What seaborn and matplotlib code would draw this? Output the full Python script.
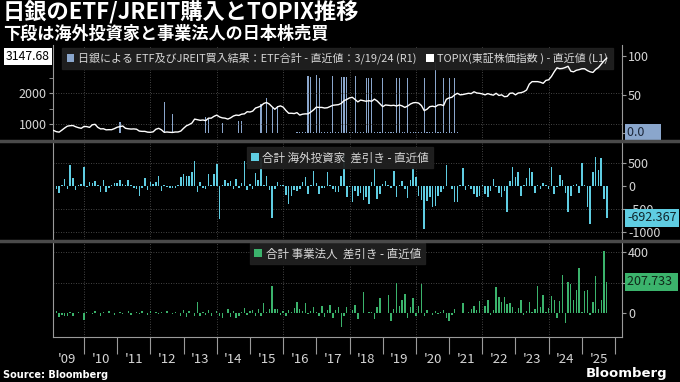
import numpy as np
import pandas as pd
import matplotlib
matplotlib.use("Agg")
import matplotlib.pyplot as plt
from matplotlib.lines import Line2D
from matplotlib.patches import Patch
import seaborn as sns

# ---------------- data (monthly, Jan 2009 - Sep 2025) ----------------
first_year = 2009

# 海外投資家 差引き
foreign_2009 = [-240, -80, -150, 20, 150, -70, 450, 170, -100, 20, 30, 400]
foreign_2010 = [-20, 85, 50, 100, 10, -130, 130, -130, -60, 10, 50, 60]
foreign_2011 = [130, 30, 10, 130, 10, -40, -80, -220, -50, 170, -90, 70]
foreign_2012 = [40, 85, 200, -110, 10, -30, -40, -50, -55, 10, 180, 260]
foreign_2013 = [220, 200, 290, 540, -130, 75, -40, -75, 260, 5, 260, 460]
foreign_2014 = [-725, 10, 130, 60, 100, -70, 150, -60, 60, 540, -90, 30]
foreign_2015 = [-75, 270, 130, 590, 10, 220, -90, -700, -80, 75, 10, 10]
foreign_2016 = [-200, -390, -220, -90, -110, -80, 75, 180, -180, 10, 310, 50]
foreign_2017 = [-180, -50, -50, 290, 10, -80, -130, -130, 220, 660, -250, -30]
foreign_2018 = [-345, -110, -220, -150, -320, -250, -390, 85, 380, -290, -180, 40]
foreign_2019 = [110, 10, -40, 310, -250, 10, 110, -75, -275, 130, 415, 180]
foreign_2020 = [-220, -300, -940, -330, -250, -460, -430, -220, -130, -80, 440, -10]
foreign_2021 = [-80, -345, -360, 10, 380, -90, 10, -75, -185, -250, -220, 10]
foreign_2022 = [-185, -235, -110, 150, -25, -150, -250, -110, -560, 100, 400, 190]
foreign_2023 = [290, -220, 10, 170, 380, 300, -150, 10, -80, 50, 10, -65]
foreign_2024 = [415, -185, -30, 225, 130, -150, -560, -220, 10, 30, -165, 500]
foreign_2025 = [10, -460, -840, 290, 630, 345, 610, -290, -692.367]

# 事業法人 差引き
corp_2009 = [10, 15, -25, -10, -20, -15, 10, -15, 5, 10, 5, -45]
corp_2010 = [10, 5, -5, 15, 5, -15, 10, 0, 15, 5, -10, 5]
corp_2011 = [10, -5, 5, 15, -10, 5, 10, -5, 15, 5, -10, 15]
corp_2012 = [5, 10, -5, 10, 5, 15, 5, -5, 10, 5, -15, 20]
corp_2013 = [-25, 15, 5, -20, 75, -20, 10, -10, 20, -15, 5, 15]
corp_2014 = [-20, -30, 5, 25, -25, 15, -30, -20, 10, 35, -10, 15]
corp_2015 = [20, -15, 25, -20, 65, 10, 25, 180, 30, 30, -10, 15]
corp_2016 = [-15, 20, 10, 35, 77, 30, 15, 70, -5, 15, 44, 10]
corp_2017 = [-20, 45, -25, 20, 55, -30, 20, 40, -90, -20, 40, 5]
corp_2018 = [20, 55, -40, 5, 140, 5, 10, 10, -40, 40, 100, 5]
corp_2019 = [5, 120, -50, 30, 200, 50, 90, 125, -30, 40, 100, -15]
corp_2020 = [50, 195, -15, 20, 5, -10, 15, -5, 10, 20, -30, -50]
corp_2021 = [-10, 25, 5, 5, 70, 5, 10, 25, 45, 20, 80, 5]
corp_2022 = [45, 90, -10, 20, 175, 110, 75, 105, 60, 70, 40, 10]
corp_2023 = [35, 85, -10, 15, 75, 10, 30, 180, 40, 120, 10, 35]
corp_2024 = [115, 90, -30, 80, 255, -65, 205, 195, 85, 150, 300, 10]
corp_2025 = [145, 150, -10, 75, 245, 30, 90, 410, 207.733]

# TOPIX
topix_2009 = [790, 750, 735, 800, 870, 930, 945, 950, 910, 880, 860, 920]
topix_2010 = [915, 890, 975, 990, 890, 840, 845, 810, 815, 815, 850, 895]
topix_2011 = [915, 935, 860, 845, 835, 840, 830, 770, 760, 760, 735, 730]
topix_2012 = [745, 830, 860, 810, 730, 740, 730, 725, 740, 740, 770, 860]
topix_2013 = [940, 980, 1030, 1160, 1140, 1120, 1130, 1110, 1190, 1190, 1250, 1290]
topix_2014 = [1230, 1200, 1190, 1160, 1200, 1260, 1290, 1280, 1320, 1330, 1400, 1390]
topix_2015 = [1420, 1520, 1550, 1590, 1670, 1700, 1650, 1560, 1480, 1560, 1590, 1550]
topix_2016 = [1440, 1350, 1350, 1340, 1370, 1290, 1320, 1330, 1330, 1390, 1460, 1550]
topix_2017 = [1540, 1540, 1520, 1530, 1570, 1610, 1620, 1630, 1670, 1760, 1800, 1850]
topix_2018 = [1870, 1800, 1720, 1780, 1760, 1740, 1760, 1740, 1810, 1750, 1660, 1565]
topix_2019 = [1620, 1610, 1600, 1610, 1585, 1620, 1590, 1540, 1585, 1650, 1690, 1700]
topix_2020 = [1680, 1600, 1435, 1480, 1565, 1580, 1560, 1620, 1630, 1600, 1805, 1850]
topix_2021 = [1870, 1950, 2000, 1950, 1960, 1980, 2000, 1990, 2050, 2010, 2000, 1980]
topix_2022 = [1950, 1990, 1960, 1940, 2000, 1930, 1950, 1890, 1900, 2000, 2010, 1950]
topix_2023 = [2010, 2020, 2050, 2107, 2300, 2380, 2380, 2380, 2360, 2325, 2420, 2440]
topix_2024 = [2550, 2700, 2830, 2800, 2810, 2840, 2880, 2720, 2700, 2750, 2770, 2800]
topix_2025 = [2800, 2740, 2700, 2680, 2780, 2840, 2950, 3060, 3147.68]

# 日銀 ETF 買入 (R1)
etf_tall_months = ["2011-01", "2012-05", "2012-08", "2013-08", "2013-09", "2014-02",
                   "2014-08", "2014-09", "2015-04", "2015-06", "2015-08", "2015-10",
                   "2016-09", "2016-10", "2016-12", "2017-01", "2017-06", "2017-09",
                   "2017-10", "2017-11", "2018-02", "2018-06", "2018-07", "2018-08",
                   "2018-12", "2019-05", "2019-06", "2019-09", "2020-03", "2020-07",
                   "2020-10", "2020-12", "2021-02"]
etf_tall_values = [14.6, 40, 25, 21, 18, 13,
                   15, 15, 38, 45, 32, 35,
                   74, 72.7, 75, 72, 74, 73,
                   73, 73, 73.6, 71.5, 71.5, 71.5,
                   72, 72, 72, 72, 72, 92,
                   72, 72, 72]
etf_small_months = ["2016-05", "2016-06", "2016-07", "2016-08", "2016-11",
                    "2017-02", "2017-03", "2017-04", "2017-05", "2017-07", "2017-08", "2017-12",
                    "2018-01", "2018-03", "2018-04", "2018-05", "2018-09", "2018-10", "2018-11",
                    "2019-01", "2019-02", "2019-03", "2019-04", "2019-07", "2019-08",
                    "2019-10", "2019-11", "2019-12",
                    "2020-01", "2020-02", "2020-04", "2020-05", "2020-06", "2020-08",
                    "2020-09", "2020-11", "2021-01", "2021-03"]
etf_small_values = [1.2] * len(etf_small_months)

year_labels = ["'09", "'10", "'11", "'12", "'13", "'14", "'15", "'16", "'17",
               "'18", "'19", "'20", "'21", "'22", "'23", "'24", "'25"]

last_topix, last_etf, last_foreign, last_corp = 3147.68, 0.0, -692.367, 207.733

# ---------------- assemble ----------------
foreign = sum([foreign_2009, foreign_2010, foreign_2011, foreign_2012, foreign_2013,
               foreign_2014, foreign_2015, foreign_2016, foreign_2017, foreign_2018,
               foreign_2019, foreign_2020, foreign_2021, foreign_2022, foreign_2023,
               foreign_2024, foreign_2025], [])
corp = sum([corp_2009, corp_2010, corp_2011, corp_2012, corp_2013, corp_2014, corp_2015,
            corp_2016, corp_2017, corp_2018, corp_2019, corp_2020, corp_2021, corp_2022,
            corp_2023, corp_2024, corp_2025], [])
topix = sum([topix_2009, topix_2010, topix_2011, topix_2012, topix_2013, topix_2014,
             topix_2015, topix_2016, topix_2017, topix_2018, topix_2019, topix_2020,
             topix_2021, topix_2022, topix_2023, topix_2024, topix_2025], [])

n = len(foreign)
xpos = first_year + (np.arange(n) + 1) / 12.0


def month_index(s):
    y, m = s.split("-")
    return (int(y) - first_year) * 12 + int(m) - 1


etf = np.zeros(n)
for s, v in zip(etf_small_months, etf_small_values):
    etf[month_index(s)] = v
for s, v in zip(etf_tall_months, etf_tall_values):
    etf[month_index(s)] = v

df = pd.DataFrame({"x": xpos, "foreign": foreign, "corp": corp, "topix": topix, "etf": etf})

# ---------------- style ----------------
BG = "black"
CYAN = "#5fcde2"
GREEN = "#3bb36c"
STEEL = "#8aa6cc"
TXT = "#d6d6d6"
GRID = "#5a5a5a"
SPINE = "#9a9a9a"

plt.rcParams["font.family"] = ["Noto Sans CJK JP", "DejaVu Sans"]
plt.rcParams["axes.unicode_minus"] = False

fig = plt.figure(figsize=(6.8, 3.82), dpi=100, facecolor=BG)
L = 52.7 / 680
W = (621.7 - 52.7) / 680


def fy(p):
    return 1 - p / 382


ax_etf = fig.add_axes([L, fy(140), W, (140 - 45) / 382])
ax_fx = fig.add_axes([L, fy(239), W, (239 - 143) / 382])
ax_co = fig.add_axes([L, fy(336.7), W, (336.7 - 242) / 382])

XL = (2009.057, 2026.2)

# bars
sns.barplot(data=df, x="x", y="etf", native_scale=True, width=0.4, color=STEEL,
            saturation=1, errorbar=None, ax=ax_etf, linewidth=0)
sns.barplot(data=df, x="x", y="foreign", native_scale=True, width=0.55, color=CYAN,
            saturation=1, errorbar=None, ax=ax_fx, linewidth=0)
sns.barplot(data=df, x="x", y="corp", native_scale=True, width=0.5, color=GREEN,
            saturation=1, errorbar=None, ax=ax_co, linewidth=0)

ax_top = ax_etf.twinx()
sns.lineplot(data=df, x="x", y="topix", ax=ax_top, color="white", linewidth=1.0)

for ax in (ax_etf, ax_top, ax_fx, ax_co):
    ax.set_xlim(*XL)
    ax.set_xlabel("")
    ax.set_ylabel("")
    for sp in ax.spines.values():
        sp.set_visible(False)

for ax in (ax_etf, ax_fx, ax_co):
    ax.set_facecolor(BG)
    ax.spines["left"].set_visible(True)
    ax.spines["right"].set_visible(True)
    ax.spines["left"].set_color(SPINE)
    ax.spines["right"].set_color(SPINE)
    ax.spines["left"].set_linewidth(0.8)
    ax.spines["right"].set_linewidth(0.8)
    for yr in range(2010, 2026, 2):
        ax.axvline(yr, color=GRID, lw=0.6, ls=(0, (1, 2)), zorder=0)

# y limits
ax_etf.set_ylim(-9.1, 114.3)
ax_top.set_ylim(479, 3573)
ax_fx.set_ylim(-1156, 926)
ax_co.set_ylim(-154, 469)

# top panel axes (tick label under the value tag is hidden, as in the reference)
ax_etf.yaxis.tick_right()
ax_etf.set_yticks([0, 50, 100])
ax_etf.set_yticklabels(["", "50", "100"])
ax_top.yaxis.tick_left()
ax_top.set_yticks([1000, 2000])
ax_top.set_yticks([1500, 2500], minor=True)
ax_top.tick_params(axis="y", which="minor", length=3, color=SPINE)
for yv in (1000, 2000):
    ax_top.axhline(yv, color=GRID, lw=0.6, ls=(0, (1, 2)), zorder=0)

ax_fx.yaxis.tick_right()
ax_fx.set_yticks([-1000, -500, 0, 500])
for yv in (-1000, -500, 500):
    ax_fx.axhline(yv, color=GRID, lw=0.6, ls=(0, (1, 2)), zorder=0)

ax_co.yaxis.tick_right()
ax_co.set_yticks([0, 200, 400])
ax_co.set_yticklabels(["0", "", "400"])
for yv in (200, 400):
    ax_co.axhline(yv, color=GRID, lw=0.6, ls=(0, (1, 2)), zorder=0)

for ax in (ax_etf, ax_top, ax_fx, ax_co):
    ax.tick_params(axis="y", which="major", length=3, width=0.8, color=SPINE,
                   labelcolor=TXT, labelsize=9, pad=1.5)

for ax in (ax_etf, ax_top, ax_fx):
    ax.set_xticks([])

# bottom x axis
ax_co.spines["bottom"].set_visible(True)
ax_co.spines["bottom"].set_color(SPINE)
ax_co.spines["bottom"].set_linewidth(0.8)
ax_co.set_xticks(list(range(2010, 2027)))
ax_co.set_xticklabels([])
ax_co.set_xticks([first_year + i + 0.5 for i in range(len(year_labels))], minor=True)
ax_co.set_xticklabels(year_labels, minor=True)
ax_co.tick_params(axis="x", which="major", length=12, width=0.8, color=SPINE)
ax_co.tick_params(axis="x", which="minor", length=0, labelcolor=TXT, labelsize=9.5, pad=12)

# legends
leg_kw = dict(frameon=True, facecolor="#202020", edgecolor="#202020", framealpha=0.95,
              fancybox=False, labelcolor="#d8d8d8", handlelength=0.7,
              handleheight=0.7, handletextpad=0.3, borderaxespad=0)
h1 = [Patch(facecolor=STEEL, edgecolor="none"), Patch(facecolor="white", edgecolor="none")]
# drawn on the bar axes so that the TOPIX line (twin axes) passes over it, as in the reference
ax_etf.legend(h1, ["日銀による ETF及びJREIT買入結果：ETF合計 - 直近値：3/19/24 (R1)",
                   "TOPIX(東証株価指数 ) - 直近値 (L1)"],
              loc="upper left", bbox_to_anchor=(0.016, 0.97), ncol=2,
              columnspacing=0.9, fontsize=7.9, borderpad=0.45, **leg_kw)
ax_fx.legend([Patch(facecolor=CYAN, edgecolor="none")], ["合計 海外投資家  差引き - 直近値"],
             loc="upper left", bbox_to_anchor=(0.341, 0.955), fontsize=8.3, borderpad=0.35,
             **leg_kw)
ax_co.legend([Patch(facecolor=GREEN, edgecolor="none")], ["合計 事業法人  差引き - 直近値"],
             loc="upper left", bbox_to_anchor=(0.347, 0.985), fontsize=8.3, borderpad=0.35,
             **leg_kw)

# value tags
ax_top.annotate(f"{last_topix:.2f}", xy=(0, last_topix), xycoords=("axes fraction", "data"),
                xytext=(-2, 1), textcoords="offset points", ha="right", va="center",
                fontsize=8.8, color="black", annotation_clip=False,
                bbox=dict(boxstyle="square,pad=0.15", fc="white", ec="none"))
ax_etf.annotate(f"{last_etf:.1f}     ", xy=(1, last_etf), xycoords=("axes fraction", "data"),
                xytext=(4, 0), textcoords="offset points", ha="left", va="center",
                fontsize=9, color="#1b2638", annotation_clip=False,
                bbox=dict(boxstyle="square,pad=0.2", fc=STEEL, ec="none"))
ax_fx.annotate(f"{last_foreign:.3f}", xy=(1, last_foreign), xycoords=("axes fraction", "data"),
               xytext=(4, 0), textcoords="offset points", ha="left", va="center",
               fontsize=9, color="#10262c", annotation_clip=False,
               bbox=dict(boxstyle="square,pad=0.2", fc=CYAN, ec="none"))
ax_co.annotate(f"{last_corp:.3f} ", xy=(1, last_corp), xycoords=("axes fraction", "data"),
               xytext=(4, 0), textcoords="offset points", ha="left", va="center",
               fontsize=9, color="#0f2618", annotation_clip=False,
               bbox=dict(boxstyle="square,pad=0.2", fc=GREEN, ec="none"))

# separators
for yp in (141, 240.5):
    fig.add_artist(Line2D([0, 1], [fy(yp), fy(yp)], color="#4a4a4a", lw=2.5))

# titles
fig.text(0.004, fy(13), "日銀のETF/JREIT購入とTOPIX推移", color="white", fontsize=16,
         fontweight="bold", va="center", ha="left")
fig.text(0.004, fy(34), "下段は海外投資家と事業法人の日本株売買", color="white", fontsize=12.3,
         fontweight="bold", va="center", ha="left")
fig.text(0.004, fy(375), "Source: Bloomberg", color="white", fontsize=7,
         fontweight="bold", va="center", ha="left", family="DejaVu Sans")
fig.text(0.982, fy(374), "Bloomberg", color="white", fontsize=9.5,
         fontweight="bold", va="center", ha="right", family="DejaVu Sans")

fig.savefig("out.png", dpi=100, facecolor=BG)
